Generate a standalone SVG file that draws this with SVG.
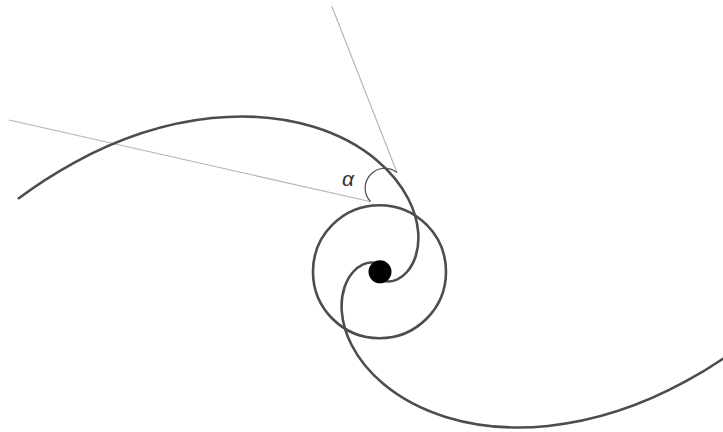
<svg xmlns="http://www.w3.org/2000/svg" xmlns:xlink="http://www.w3.org/1999/xlink" width="723" height="432" viewBox="0 0 723 432">
  <style>
    .arm { fill: none; stroke: #4d4d4d; stroke-width: 2.6; stroke-linecap: round; }
    .guide { fill: none; stroke: #b3b3b3; stroke-width: 1.1; }
    .angle { fill: none; stroke: #555; stroke-width: 1.3; }
    .lbl { font-family: "Liberation Sans", "DejaVu Sans", sans-serif; font-style: italic; font-size: 21px; fill: #333; }
  </style>
  <defs>
    <path id="armA" class="arm" vector-effect="non-scaling-stroke" d="M383.42,280.80 C385.00,281.39 386.99,281.77 389.39,281.67 C391.79,281.57 394.62,280.96 397.72,279.49 C400.82,278.02 404.21,275.66 407.47,272.00 C410.73,268.34 413.87,263.36 416.12,256.73 C418.37,250.10 419.73,241.81 419.00,231.84 C418.27,221.88 415.46,210.21 408.96,197.51 C402.47,184.81 392.27,171.04 376.67,157.95 C361.07,144.86 340.01,132.43 312.22,123.89 C284.43,115.35 249.83,110.71 208.54,114.93 C167.25,119.15 119.17,132.30 67.23,160.80 C49.05,170.78 30.27,182.63 11.45,196.70"/>
  </defs>
  <g id="guides">
    <line class="guide" x1="9" y1="120" x2="370" y2="201.5"/>
    <line class="guide" x1="331.7" y1="6" x2="397" y2="172.5"/>
    <path class="angle" d="M370.5,201.5 A19.7,19.7 0 0,1 397,172.5"/>
  </g>
  <g id="circle">
    <circle cx="379.5" cy="271.7" r="66.5" fill="none" stroke="#4d4d4d" stroke-width="2.6"/>
  </g>
  <g id="spiral" transform="translate(380 272) scale(0.98) translate(-380 -272)">
    <use xlink:href="#armA" href="#armA"/>
    <use xlink:href="#armA" href="#armA" transform="rotate(180 380 272)"/>
  </g>
  <g id="center">
    <circle cx="380" cy="271.8" r="11.5" fill="#000"/>
  </g>
  <g id="label">
    <text class="lbl" x="342" y="185.5">α</text>
  </g>
</svg>
